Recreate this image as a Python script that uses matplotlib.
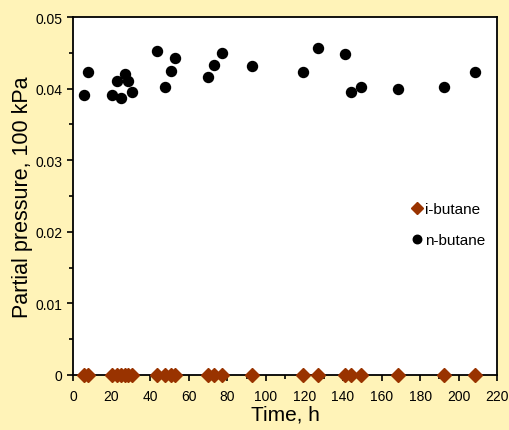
import numpy as np
from matplotlib import pyplot as plt
from matplotlib.ticker import MultipleLocator, FuncFormatter

# Data
time_h = [5.7, 7.9, 20.1, 22.8, 24.9, 27.2, 28.7, 30.8, 43.8, 47.7, 51.0, 53.1,
          69.9, 73.2, 77.2, 93.1, 119.2, 127.1, 141.1, 144.3, 149.1, 168.3, 192.4, 208.4]
n_butane = [0.0391, 0.0423, 0.0391, 0.0410, 0.0387, 0.0420, 0.0410, 0.0396, 0.0453, 0.0403,
            0.0424, 0.0443, 0.0416, 0.0433, 0.0450, 0.0431, 0.0423, 0.0457, 0.0449, 0.0395,
            0.0402, 0.0399, 0.0402, 0.0423]
i_butane = [0.0] * len(time_h)

plt.rcParams['font.family'] = ['Liberation Sans', 'DejaVu Sans']

fig = plt.figure(figsize=(5.10, 4.31), dpi=100, facecolor='#FFF3B8')
ax = fig.add_axes([0.143, 0.128, 0.832, 0.830])
ax.set_facecolor('white')

ax.plot(time_h, i_butane, linestyle='none', marker='D', markersize=7,
        color='#993300', label='i-butane', clip_on=False, zorder=3)
ax.plot(time_h, n_butane, linestyle='none', marker='o', markersize=7.2,
        color='black', label='n-butane', clip_on=False, zorder=3)

ax.set_xlim(0, 220)
ax.set_ylim(0, 0.05)
ax.xaxis.set_major_locator(MultipleLocator(20))
ax.xaxis.set_minor_locator(MultipleLocator(10))
ax.yaxis.set_major_locator(MultipleLocator(0.01))
ax.yaxis.set_minor_locator(MultipleLocator(0.005))
ax.yaxis.set_major_formatter(FuncFormatter(lambda v, p: '0' if abs(v) < 1e-9 else f'{v:.2f}'))
ax.tick_params(which='both', direction='out', labelsize=10, width=1.2)
ax.tick_params(which='major', length=4)
ax.tick_params(which='minor', length=3)
ax.tick_params(axis='x', which='major', pad=6.5)

for s in ax.spines.values():
    s.set_linewidth(1.3)
    s.set_color('black')

ax.set_xlabel('Time, h', fontsize=15, labelpad=1)
ax.set_ylabel('Partial pressure, 100 kPa', fontsize=15.5, labelpad=2)

leg = ax.legend(loc='upper left', bbox_to_anchor=(0.80, 0.482), frameon=False,
                fontsize=11, handlelength=0.6, handletextpad=0.2, labelspacing=1.08,
                borderpad=0, borderaxespad=0, markerscale=0.85)

fig.savefig('out.png', dpi=100, facecolor=fig.get_facecolor())
